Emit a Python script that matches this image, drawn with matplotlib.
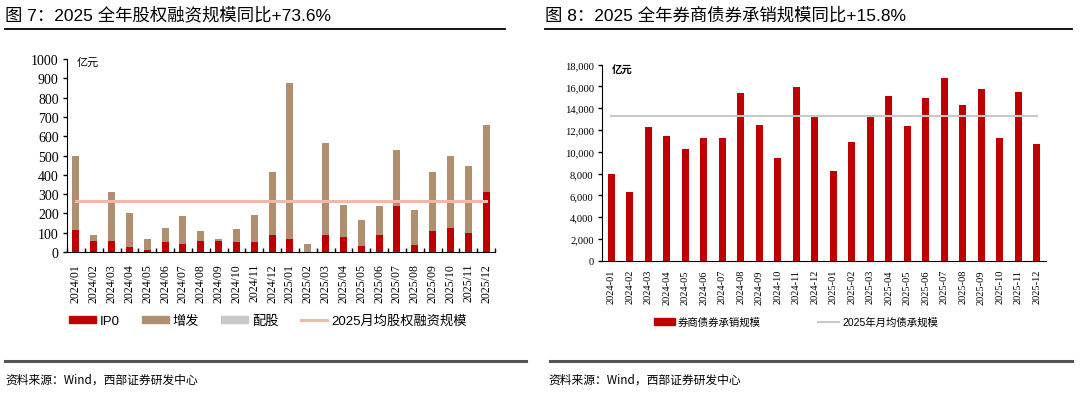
import matplotlib.pyplot as plt
from matplotlib.lines import Line2D
from matplotlib.patches import Patch
from matplotlib.ticker import FuncFormatter, FixedLocator
import numpy as np

plt.rcParams['font.family'] = ['Liberation Sans', 'Noto Sans CJK SC']

# 图7 数据（亿元）
months_left = ['2024/01', '2024/02', '2024/03', '2024/04', '2024/05', '2024/06',
               '2024/07', '2024/08', '2024/09', '2024/10', '2024/11', '2024/12',
               '2025/01', '2025/02', '2025/03', '2025/04', '2025/05', '2025/06',
               '2025/07', '2025/08', '2025/09', '2025/10', '2025/11', '2025/12']
ipo = [115, 57, 57, 26, 9, 50, 43, 55, 55, 50, 50, 90,
       69, 0, 90, 79, 33, 86, 240, 38, 110, 126, 98, 310]
total_equity = [500, 86, 310, 202, 69, 124, 188, 110, 69, 121, 191, 417,
                876, 43, 564, 245, 166, 240, 529, 219, 412, 497, 445, 659]
zengfa = [t - i for t, i in zip(total_equity, ipo)]
peigu = [0] * 24
avg_equity_2025 = 264

# 图8 数据（亿元）
months_right = [m.replace('/', '-') for m in months_left]
bond_uw = [7950, 6280, 12300, 11450, 10290, 11300, 11240, 15430, 12460, 9400, 15950, 13190,
           8240, 10870, 13190, 15120, 12340, 14970, 16750, 14300, 15740, 11270, 15490, 10680]
avg_bond_2025 = 13250

RED = '#C00000'
BROWN = '#B08F70'
PINK = '#F2B8AA'
GREY = '#C8C8C8'
W, H = 1080, 402

fig = plt.figure(figsize=(W / 100, H / 100), dpi=100)

def px_axes(x0, y_top, x1, y_bot):
    return fig.add_axes([x0 / W, (H - y_bot) / H, (x1 - x0) / W, (y_bot - y_top) / H])

def hline(x0, x1, y, color, lw):
    fig.add_artist(Line2D([x0 / W, x1 / W], [(H - y) / H, (H - y) / H],
                          color=color, lw=lw, transform=fig.transFigure))

# 标题和分隔线
fig.text(5 / W, (H - 15) / H, '图 7：2025 全年股权融资规模同比+73.6%', fontsize=12.5, va='center')
fig.text(545 / W, (H - 15) / H, '图 8：2025 全年券商债券承销规模同比+15.8%', fontsize=12.5, va='center')
hline(5, 505, 30, 'black', 1.3)
hline(545, 1072, 30, 'black', 1.3)
hline(5, 526, 362, '#555555', 2.2)
hline(550, 1072, 362, '#555555', 2.2)
fig.text(5 / W, (H - 380) / H, '资料来源：Wind，西部证券研发中心', fontsize=8.5, va='center',
         family=['Noto Sans CJK SC'])
fig.text(548 / W, (H - 380) / H, '资料来源：Wind，西部证券研发中心', fontsize=8.5, va='center',
         family=['Noto Sans CJK SC'])

# 左图
ax1 = px_axes(67, 60, 495, 253)
x = np.arange(len(months_left))
bw = 0.4
ax1.bar(x, ipo, width=bw, color=RED)
ax1.bar(x, zengfa, width=bw, bottom=ipo, color=BROWN)
ax1.bar(x, peigu, width=bw, bottom=total_equity, color=GREY)
ax1.plot([x[0], x[-1]], [avg_equity_2025, avg_equity_2025], color=PINK, lw=2.2)
ax1.set_xlim(-0.5, len(x) - 0.5)
ax1.set_ylim(0, 1000)
ax1.set_yticks(range(0, 1001, 100))
ax1.set_xticks(x)
ax1.set_xticklabels(months_left, rotation=90, family='Liberation Serif', fontsize=8.5)
ax1.xaxis.set_minor_locator(FixedLocator(np.arange(-0.5, len(x), 1)))
ax1.tick_params(axis='x', which='major', length=0, pad=8)
ax1.tick_params(axis='x', which='minor', direction='in', length=3, width=1)
ax1.tick_params(axis='y', length=3, width=1, pad=3)
for lab in ax1.get_yticklabels():
    lab.set_family('Liberation Serif')
    lab.set_fontsize(10)
ax1.spines['top'].set_visible(False)
ax1.spines['right'].set_visible(False)
ax1.text(10 / 428, 0.985, '亿元', transform=ax1.transAxes, fontsize=8,
         va='center', family=['Noto Sans CJK SC'])

handles1 = [Patch(color=RED), Patch(color=BROWN), Patch(color=GREY),
            Line2D([], [], color=PINK, lw=2.2)]
fig.legend(handles1, ['IP0', '增发', '配股', '2025月均股权融资规模'],
           loc='center', bbox_to_anchor=(268 / W, (H - 322) / H), ncol=4, frameon=False,
           fontsize=9.5, handlelength=2.0, handleheight=0.45, handletextpad=0.3,
           columnspacing=1.7)

# 右图
ax2 = px_axes(602, 65.7, 1046, 261.7)
ax2.bar(x, bond_uw, width=bw, color=RED)
ax2.plot([x[0], x[-1]], [avg_bond_2025, avg_bond_2025], color=GREY, lw=1.5)
ax2.set_xlim(-0.5, len(x) - 0.5)
ax2.set_ylim(0, 18000)
ax2.set_yticks(range(0, 18001, 2000))
ax2.yaxis.set_major_formatter(FuncFormatter(lambda v, p: f'{int(v):,}'))
ax2.set_xticks(x)
ax2.set_xticklabels(months_right, rotation=90, family='Liberation Serif', fontsize=7.5)
ax2.tick_params(axis='x', length=0, pad=6)
ax2.tick_params(axis='y', length=3, width=1, pad=3)
for lab in ax2.get_yticklabels():
    lab.set_family('Liberation Serif')
    lab.set_fontsize(7.6)
ax2.spines['top'].set_visible(False)
ax2.spines['right'].set_visible(False)
ax2.text(10 / 444, 0.975, '亿元', transform=ax2.transAxes, fontsize=7.5,
         va='center', family=['Noto Sans CJK SC'], weight='bold')

handles2 = [Patch(color=RED), Line2D([], [], color=GREY, lw=1.5)]
fig.legend(handles2, ['券商债券承销规模', '2025年月均债承规模'],
           loc='center', bbox_to_anchor=(796 / W, (H - 323) / H), ncol=2, frameon=False,
           fontsize=7.5, handlelength=2.0, handleheight=0.6, handletextpad=0.3,
           columnspacing=5.5)

fig.savefig('out.png', dpi=100)
